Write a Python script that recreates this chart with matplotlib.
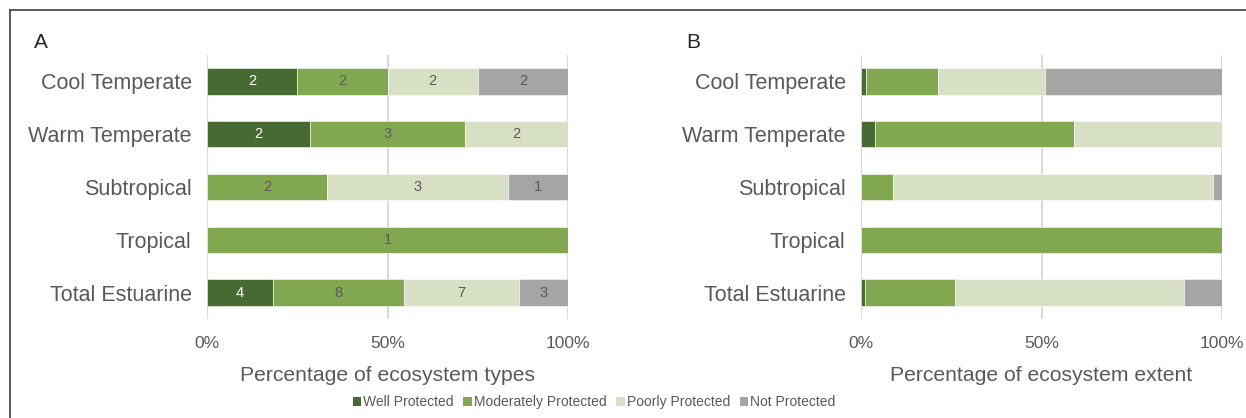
import numpy as np
import matplotlib.pyplot as plt
from matplotlib.lines import Line2D
from matplotlib.patches import Patch

plt.rcParams['font.family'] = ['Liberation Sans', 'DejaVu Sans']

# Categories and series
regions = ['Cool Temperate', 'Warm Temperate', 'Subtropical', 'Tropical', 'Total Estuarine']
levels = ['Well Protected', 'Moderately Protected', 'Poorly Protected', 'Not Protected']
colors = ['#466A31', '#81A851', '#D7E0C5', '#A5A5A5']
label_colors = ['white', '#595959', '#595959', '#595959']

# Panel A: number of ecosystem types per protection level
types_well = [2, 2, 0, 0, 4]
types_moderate = [2, 3, 2, 1, 8]
types_poor = [2, 2, 3, 0, 7]
types_not = [2, 0, 1, 0, 3]

# Panel B: percentage of ecosystem extent per protection level
extent_well = [1.4, 3.9, 0.0, 0.0, 1.1]
extent_moderate = [19.9, 55.0, 8.9, 100.0, 24.9]
extent_poor = [29.7, 41.1, 88.7, 0.0, 63.5]
extent_not = [49.0, 0.0, 2.4, 0.0, 10.5]

text_col = '#595959'

fig = plt.figure(figsize=(12.46, 4.18), dpi=100)
W, H = 1246, 418


def draw_panel(ax, series, counts=None):
    series = np.array(series, dtype=float)
    pct = series / series.sum(axis=0) * 100
    y = np.arange(len(regions))
    left = np.zeros(len(regions))
    for i in range(len(levels)):
        ax.barh(y, pct[i], left=left, height=0.5, color=colors[i],
                edgecolor='white', linewidth=0.4, zorder=3)
        if counts is not None:
            for j in range(len(regions)):
                if counts[i][j] > 0:
                    ax.text(left[j] + pct[i][j] / 2, y[j], str(counts[i][j]),
                            ha='center', va='center', fontsize=10.5,
                            color=label_colors[i], zorder=4)
        left += pct[i]
    ax.set_xlim(0, 100)
    ax.set_ylim(4.5, -0.5)
    ax.set_yticks(y)
    ax.set_yticklabels(regions, fontsize=15.5, color=text_col)
    ax.set_xticks([0, 50, 100])
    ax.set_xticklabels(['0%', '50%', '100%'], fontsize=12.5, color=text_col)
    ax.tick_params(axis='y', length=0, pad=11)
    ax.tick_params(axis='x', length=0, pad=12)
    ax.grid(axis='x', color='#D9D9D9', linewidth=1.5, zorder=0)
    for s in ax.spines.values():
        s.set_visible(False)


axA = fig.add_axes([207 / W, 1 - 319 / H, 361 / W, 264 / H])
draw_panel(axA, [types_well, types_moderate, types_poor, types_not],
           counts=[types_well, types_moderate, types_poor, types_not])
axA.set_xlabel('Percentage of ecosystem types', fontsize=15.2, color=text_col, labelpad=11)

axB = fig.add_axes([861 / W, 1 - 319 / H, 361 / W, 264 / H])
draw_panel(axB, [extent_well, extent_moderate, extent_poor, extent_not])
axB.set_xlabel('Percentage of ecosystem extent', fontsize=15.2, color=text_col, labelpad=11)

# Panel letters
fig.text(34 / W, 1 - 42 / H, 'A', fontsize=15, color='#262626', va='center')
fig.text(686 / W, 1 - 42 / H, 'B', fontsize=15, color='#262626', va='center')

# Outer border (left and top)
fig.add_artist(Line2D([10 / W, 10 / W], [0, 1 - 10 / H], color='#404040', linewidth=1.2))
fig.add_artist(Line2D([10 / W, 1], [1 - 10 / H, 1 - 10 / H], color='#404040', linewidth=1.2))

# Legend
handles = [Patch(facecolor=c, edgecolor='none') for c in colors]
fig.legend(handles, levels, loc='center', bbox_to_anchor=(594 / W, 1 - 402 / H),
           ncol=4, frameon=False, fontsize=10, handlelength=0.6, handleheight=0.6,
           handletextpad=0.15, columnspacing=0.7, labelcolor=text_col)

fig.savefig('out.png', dpi=100)
